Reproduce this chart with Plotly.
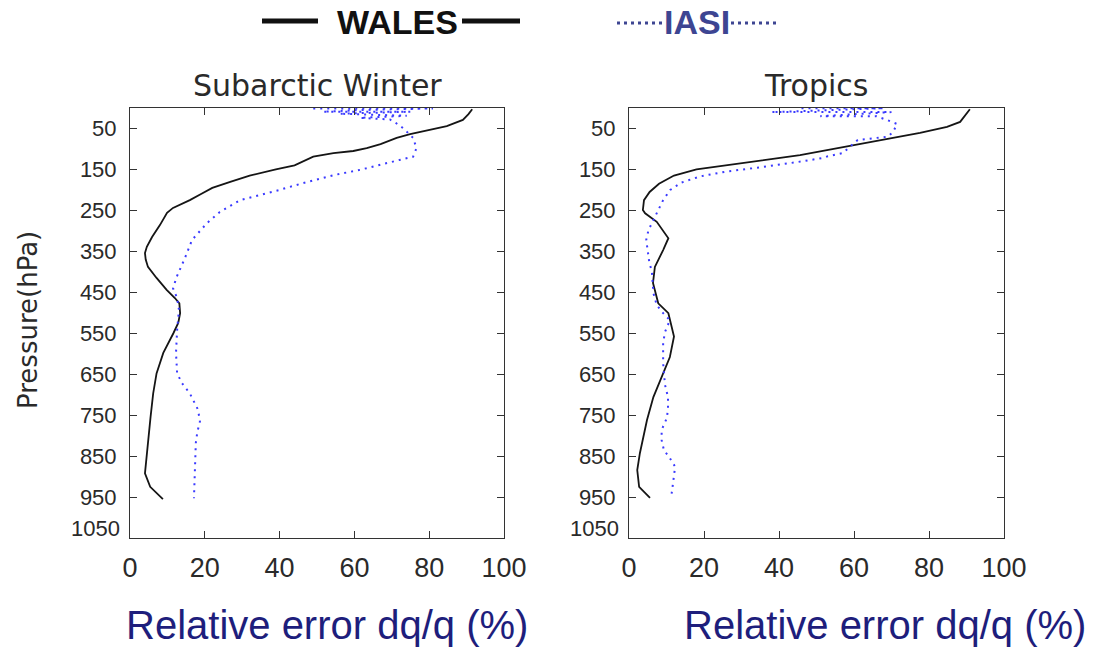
import plotly.graph_objects as go

# ---------------- data ----------------
x_ticks = [0, 20, 40, 60, 80, 100]
p_ticks = [50, 150, 250, 350, 450, 550, 650, 750, 850, 950]

sw_wales_p = [3, 15, 29, 44, 64, 73, 88, 98, 105, 110, 119, 134, 140, 150, 165, 180, 195, 210, 225, 244,
              256, 286, 315, 339, 354, 370, 388, 415, 444, 464, 477, 501, 525, 550, 598, 648, 697, 754,
              811, 860, 892, 925, 941, 955]
sw_wales_v = [91.5, 90.5, 89, 84.7, 74.9, 71.3, 67, 63.3, 59.7, 54.4, 49, 45.5, 44, 39, 32, 27, 22, 19, 16, 11.5,
              9.9, 8, 5.9, 4.5, 4, 4.2, 4.8, 7.1, 9.8, 12, 13.2, 13.4, 12.9, 11.6, 8.9, 7.1, 6.2, 5.5,
              4.9, 4.3, 4.0, 5.4, 7.1, 8.8]

sw_iasi_p = [1, 1, 5, 9, 9, 14, 19, 24, 28, 36, 49, 73, 98, 119, 127, 139, 151, 164, 176, 183, 200, 212,
             225, 254, 281, 322, 366, 412, 440, 464, 493, 542, 598, 648, 672, 697, 737, 766, 791, 818, 876, 953]
sw_iasi_v = [49, 81, 62, 51.6, 75, 56, 74, 61.5, 69.5, 71, 73, 75.7, 76.6, 75.7, 72, 66.8, 61.5, 54.4, 49, 46.4, 40, 35,
             29.4, 24, 20.6, 16.6, 14.7, 12.5, 11.5, 12.6, 13.1, 12.6, 12.3, 12.6, 13.9, 16, 18.2, 18.7, 18, 17.6, 17.4, 17.1]

tr_wales_p = [3, 34, 46, 61, 73, 83, 95, 105, 115, 122, 135, 150, 165, 185, 205, 225, 249, 257, 278, 318,
              347, 388, 427, 477, 501, 558, 608, 657, 706, 762, 843, 884, 925, 952]
tr_wales_v = [90.9, 88.3, 84.8, 77.6, 70.4, 64.3, 58.1, 51.7, 45.6, 40.3, 30, 18, 12, 8, 5.5, 4, 3.7, 4.3, 7.4, 10.5,
              9.1, 6.9, 6.4, 7.8, 10.5, 12, 10.9, 8.7, 6.5, 4.8, 2.9, 2.2, 2.7, 5.6]

tr_iasi_p = [0.5, 0.5, 10, 10, 20, 20, 30, 39, 59, 70, 78, 94, 110, 118, 122, 130, 137, 145, 155, 167, 182, 200,
             225, 249, 298, 322, 347, 376, 400, 452, 481, 501, 518, 547, 574, 623, 676, 706, 733, 757, 786,
             811, 835, 855, 876, 903, 933, 953]
tr_iasi_v = [46, 68, 38, 70, 51, 66, 69, 71.5, 70.4, 69, 61, 59, 57, 53, 51.7, 46.4, 41.6, 35, 26, 19, 14, 11,
             9.1, 7.8, 5.2, 4.6, 4.9, 5.4, 6.1, 6.5, 7.4, 9.1, 10.9, 9.6, 9.1, 9.1, 9.6, 10.4, 10.4, 10.1, 8.7,
             8.7, 9.3, 10.9, 12.3, 12, 11.5, 11.2]

W, H = 1108, 651
def px(x):
    return x / W
def py(y):
    return (H - y) / H

WALES_COLOR = "#151515"
IASI_COLOR = "#3a3aff"
NAVY = "#1e1e7c"
LEG_NAVY = "#3d4592"
AX_FONT = "Liberation Sans, Arial, sans-serif"
TITLE_FONT = "DejaVu Sans, sans-serif"
TXT = "#2a2a2a"

fig = go.Figure()

for p, v, xa, ya in [(sw_wales_p, sw_wales_v, "x", "y"), (tr_wales_p, tr_wales_v, "x2", "y2")]:
    fig.add_trace(go.Scatter(x=v, y=p, xaxis=xa, yaxis=ya, mode="lines", name="WALES",
                             line=dict(color=WALES_COLOR, width=1.8), showlegend=False))
for p, v, xa, ya in [(sw_iasi_p, sw_iasi_v, "x", "y"), (tr_iasi_p, tr_iasi_v, "x2", "y2")]:
    fig.add_trace(go.Scatter(x=v, y=p, xaxis=xa, yaxis=ya, mode="lines", name="IASI",
                             line=dict(color=IASI_COLOR, width=2, dash="2px,5px"), showlegend=False))

xcommon = dict(range=[0, 100], tickvals=x_ticks, ticks="inside", ticklen=7, tickcolor="#333",
               showline=True, linecolor="#333", linewidth=1, mirror="ticks", showgrid=False,
               zeroline=False, tickfont=dict(family=AX_FONT, size=27, color=TXT),
               ticklabelstandoff=6, automargin=False)
ycommon = dict(range=[1050, 0], tickvals=p_ticks, ticktext=[str(t) for t in p_ticks], ticks="inside",
               ticklen=7, tickcolor="#333", showline=True, linecolor="#333", linewidth=1, mirror="ticks",
               showgrid=False, zeroline=False, tickfont=dict(family=AX_FONT, size=22, color=TXT),
               ticklabelstandoff=8, automargin=False)

ydom = [py(538), py(108)]
fig.update_layout(
    width=W, height=H, margin=dict(l=0, r=0, t=0, b=0, pad=0, autoexpand=False),
    paper_bgcolor="white", plot_bgcolor="white", showlegend=False,
    xaxis=dict(domain=[px(130), px(504)], anchor="y", **xcommon),
    yaxis=dict(domain=ydom, anchor="x", **ycommon),
    xaxis2=dict(domain=[px(629), px(1004)], anchor="y2", **xcommon),
    yaxis2=dict(domain=ydom, anchor="x2", **ycommon),
)

def note(text, x, y, size, color, family, **kw):
    d = dict(text=text, x=px(x), y=py(y), xref="paper", yref="paper", xanchor="center",
             yanchor="middle", showarrow=False, borderpad=0,
             font=dict(family=family, size=size, color=color))
    d.update(kw)
    return d

ann = []
# panel titles
ann.append(note("Subarctic Winter", 317, 86, 30, TXT, TITLE_FONT))
ann.append(note("Tropics", 816, 86, 30, TXT, TITLE_FONT))
# y-axis title
ann.append(note("Pressure(hPa)", 28, 320, 26, TXT, TITLE_FONT, textangle=-90))
# 1050 labels
for xr in [121, 620]:
    ann.append(note("1050", xr, 528, 22, TXT, AX_FONT, xanchor="right"))
# bottom labels
ann.append(note("Relative error dq/q (%)", 327, 625, 40, NAVY, AX_FONT))
ann.append(note("Relative error dq/q (%)", 885, 625, 40, NAVY, AX_FONT))
# legend texts
ann.append(note("<b>WALES</b>", 397, 22, 34, "#111", AX_FONT))
ann.append(note("<b>IASI</b>", 697, 22, 34, LEG_NAVY, AX_FONT))
fig.update_layout(annotations=ann)

shapes = []
for x0, x1 in [(262, 318), (462, 520)]:
    shapes.append(dict(type="line", xref="paper", yref="paper", x0=px(x0), x1=px(x1), y0=py(21), y1=py(21),
                       line=dict(color="#111", width=5)))
for x0, x1 in [(617, 662), (731, 776)]:
    shapes.append(dict(type="line", xref="paper", yref="paper", x0=px(x0), x1=px(x1), y0=py(23), y1=py(23),
                       line=dict(color=LEG_NAVY, width=3, dash="3px,4px")))
fig.update_layout(shapes=shapes)

fig.write_html("out.html")
